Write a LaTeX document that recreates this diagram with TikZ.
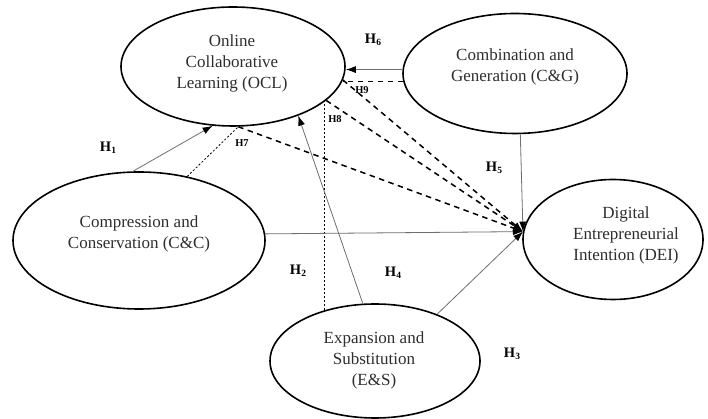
\documentclass[tikz,border=0pt]{standalone}
\usepackage{fontspec}
\setmainfont{Liberation Serif}
\usetikzlibrary{shapes.geometric,arrows.meta}
\newcommand{\hlab}[1]{\textbf{H\raisebox{-0.35ex}{\fontsize{9.5}{9.5}\selectfont\bfseries #1}}}
\definecolor{linegray}{HTML}{6E6E6E}
\definecolor{txtgray}{HTML}{2E2E2E}
\tikzset{
  construct/.style={draw=black, line width=1.6pt, ellipse, inner sep=0pt},
  ctext/.style={align=center, text=txtgray, font=\fontsize{17}{21}\selectfont},
  hyp/.style={font=\fontsize{14.5}{14.5}\selectfont, text=black},
  hsmall/.style={font=\fontsize{10.5}{10.5}\selectfont\bfseries, text=black},
  tip/.style={-{Latex[length=10pt,width=7pt,color=black]}},
  solidlink/.style={draw=linegray, line width=0.8pt},
  dashlink/.style={draw=black, line width=1.5pt, dash pattern=on 5.5pt off 4.5pt},
  dotlink/.style={draw=black, line width=0.8pt, dash pattern=on 2pt off 2pt},
}
\begin{document}
\begin{tikzpicture}[x=1pt,y=1pt]
\useasboundingbox (0,0) rectangle (708,419);
\fill[white] (0,0) rectangle (708,419);

% constructs
\node[construct, minimum width=224pt, minimum height=119pt] (ocl) at (233,352.5) {};
\node[construct, minimum width=224pt, minimum height=120pt] (cg) at (515,345.5) {};
\node[construct, minimum width=252pt, minimum height=137pt] (cc) at (139,178.5) {};
\node[construct, minimum width=180pt, minimum height=120pt] (dei) at (613,179.5) {};
\node[construct, minimum width=210pt, minimum height=114pt] (es) at (375,58) {};

\node[ctext] (oclt) at (232,356) {Online\\Collaborative\\Learning (OCL)};
\node[ctext] (cgt) at (515,352.5) {Combination and\\Generation (C\&G)};
\node[ctext] (cct) at (139,185.5) {Compression and\\Conservation (C\&C)};
\node[ctext] (deit) at (626,184) {Digital\\Entrepreneurial\\Intention (DEI)};
\node[ctext] (est) at (374,58.5) {Expansion and\\Substitution\\(E\&S)};

% target point on DEI
\coordinate (tgt) at (dei.175.5);

% dashed mediation paths
\draw[dotlink] (cc.53.3) -- (ocl.-85.3);
\draw[dashlink, tip] (ocl.-85.3) -- (tgt);
\draw[dotlink] (es.135.6) -- (es.135.6 |- ocl.-20.2);
\draw[dashlink, tip] (ocl.-20.2) -- (tgt);
\draw[dashlink] (cg.184.1) -- (ocl.-7.9 |- cg.184.1);
\draw[dashlink, tip] (ocl.-7.9) -- (tgt);

% direct paths
\draw[solidlink, tip] (cc.95) -- (ocl.251.7);
\draw[solidlink, tip] (cg.178.2) -- (ocl.east |- cg.178.2);
\draw[solidlink, tip] (es.102) -- (ocl.-37);
\draw[solidlink, tip] (cg.-85.2) -- (tgt);
\draw[solidlink, tip] (cc.3.6) -- (tgt);
\draw[solidlink, tip] (es.37.2) -- (tgt);

% labels
\node[hyp] (l1) at (108,271) {\hlab{1}};
\node[hyp] (l2) at (298,148) {\hlab{2}};
\node[hyp] (l3) at (512,65) {\hlab{3}};
\node[hyp] (l4) at (393,146) {\hlab{4}};
\node[hyp] (l5) at (494,251) {\hlab{5}};
\node[hyp] (l6) at (373,379) {\hlab{6}};
\node[hsmall] (l7) at (242,276) {H7};
\node[hsmall] (l8) at (335,300) {H8};
\node[hsmall] (l9) at (362,329) {H9};
\end{tikzpicture}
\end{document}
